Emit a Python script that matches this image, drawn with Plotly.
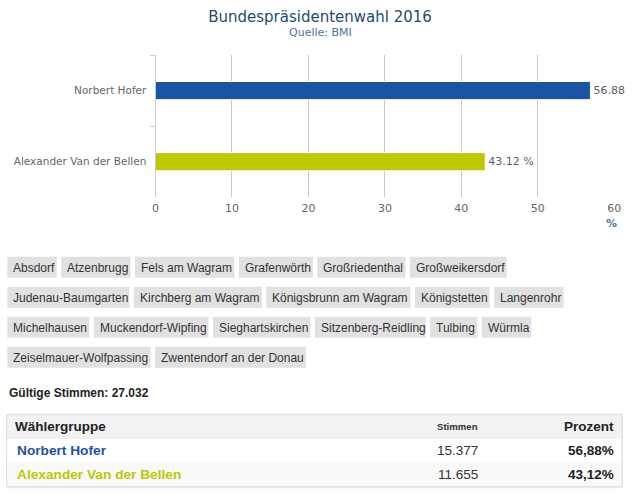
import plotly.graph_objects as go

W, H = 640, 501

# --- data ---
candidates = ["Norbert Hofer", "Alexander Van der Bellen"]
percent = [56.88, 43.12]
label_suffix = ["", " %"]
votes = [15377, 11655]
bar_colors = ["#1a54a4", "#bec800"]
name_colors = ["#1f4fa6", "#bcc800"]

tag_rows = [
    ["Absdorf", "Atzenbrugg", "Fels am Wagram", "Grafenwörth", "Großriedenthal", "Großweikersdorf"],
    ["Judenau-Baumgarten", "Kirchberg am Wagram", "Königsbrunn am Wagram", "Königstetten", "Langenrohr"],
    ["Michelhausen", "Muckendorf-Wipfing", "Sieghartskirchen", "Sitzenberg-Reidling", "Tulbing", "Würmla"],
    ["Zeiselmauer-Wolfpassing", "Zwentendorf an der Donau"],
]

# Arial / Liberation Sans advance widths (1/1000 em) to size the tag boxes
ARIAL = {
    " ": 278, "-": 333, "a": 556, "b": 556, "c": 500, "d": 556, "e": 556, "f": 278, "g": 556,
    "h": 556, "i": 222, "j": 222, "k": 500, "l": 222, "m": 833, "n": 556, "o": 556, "p": 556,
    "q": 556, "r": 333, "s": 500, "t": 278, "u": 556, "v": 500, "w": 722, "x": 500, "y": 500,
    "z": 500, "ß": 611, "ä": 556, "ö": 556, "ü": 556, "A": 667, "D": 722, "F": 611, "G": 778,
    "J": 500, "K": 667, "L": 556, "M": 833, "S": 667, "T": 611, "W": 944, "Z": 611,
}


def text_w(s, size):
    return sum(ARIAL.get(c, 556) for c in s) * size / 1000


def px(x):
    return x / W


def py(y):
    return 1 - y / H


def de_num(n):
    return f"{n:,}".replace(",", ".")


fig = go.Figure(go.Bar(
    x=percent,
    y=candidates,
    orientation="h",
    marker=dict(color=bar_colors, line=dict(color="white", width=1)),
    text=[f"{p:.2f}{s}" for p, s in zip(percent, label_suffix)],
    textposition="outside",
    textfont=dict(family="DejaVu Sans", size=11, color="#606060"),
    constraintext="none",
    cliponaxis=False,
    hoverinfo="skip",
))

fig.update_layout(
    width=W, height=H,
    margin=dict(l=0, r=0, t=0, b=0, autoexpand=False),
    paper_bgcolor="white", plot_bgcolor="white",
    showlegend=False,
    bargap=0.745,
    font=dict(family="DejaVu Sans", color="#666666"),
    title=dict(
        text="Bundespräsidentenwahl 2016",
        x=0.5, xanchor="center", y=py(17), yanchor="middle",
        xref="paper", yref="paper", automargin=False,
        font=dict(family="DejaVu Sans", size=15, color="#274b6d"),
    ),
    xaxis=dict(
        domain=[px(155.5), px(614.3)],
        range=[0, 60], dtick=10,
        showgrid=True, gridcolor="#c8c8c8", gridwidth=1,
        zeroline=False, showline=False,
        tickfont=dict(size=11, color="#666666"),
        ticklabelstandoff=3,
        automargin=False,
        anchor="y",
    ),
    yaxis=dict(
        domain=[py(197.3), py(55)],
        autorange="reversed",
        showline=True, linecolor="#c0d0e0", linewidth=1,
        ticks="outside", tickson="boundaries", ticklen=5, tickcolor="#c0d0e0",
        tickfont=dict(size=10.5, color="#666666"),
        ticklabelstandoff=6,
        showgrid=False, automargin=False,
    ),
)

shapes = []
annotations = [
    dict(text="Quelle: BMI", x=0.5, y=py(33), xanchor="center", yanchor="middle",
         font=dict(family="DejaVu Sans", size=11, color="#4d759e")),
    dict(text="<b>%</b>", x=px(611), y=py(223), xanchor="center", yanchor="middle",
         font=dict(family="DejaVu Sans", size=11, color="#4d759e")),
]

# --- municipality tags ---
tag_size = 12
for r, row in enumerate(tag_rows):
    top = 256.7 + 30 * r
    x = 7.3
    for name in row:
        w = text_w(name, tag_size) + 8
        shapes.append(dict(type="rect", xref="paper", yref="paper",
                           x0=px(x), x1=px(x + w), y0=py(top + 21), y1=py(top),
                           fillcolor="#e1e1e1", line=dict(width=0), layer="below"))
        annotations.append(dict(text=name, x=px(x + 4), y=py(top + 10.8),
                                xanchor="left", yanchor="middle",
                                font=dict(family="Liberation Sans", size=tag_size, color="#333333")))
        x += w + 4.5

# --- results table ---
annotations.append(dict(text=f"<b>Gültige Stimmen: {de_num(sum(votes))}</b>",
                        x=px(6.7), y=py(393.3), xanchor="left", yanchor="middle",
                        font=dict(family="Liberation Sans", size=12, color="#222222")))

t_left, t_right = 6.7, 622
row_edges = [414.3, 439, 462.7, 486.7]
row_fills = ["#f2f2f2", "#ffffff", "#f9f9f9"]
# faint shadow + border
shapes.append(dict(type="rect", xref="paper", yref="paper",
                   x0=px(t_left), x1=px(t_right + 1), y0=py(row_edges[-1] + 1.5), y1=py(row_edges[0]),
                   fillcolor="#ececec", line=dict(width=0), layer="below"))
for i, fill in enumerate(row_fills):
    shapes.append(dict(type="rect", xref="paper", yref="paper",
                       x0=px(t_left), x1=px(t_right), y0=py(row_edges[i + 1]), y1=py(row_edges[i]),
                       fillcolor=fill, line=dict(width=0), layer="below"))
shapes.append(dict(type="rect", xref="paper", yref="paper",
                   x0=px(t_left), x1=px(t_right), y0=py(row_edges[-1]), y1=py(row_edges[0]),
                   line=dict(color="#dddddd", width=1)))

head_y = (row_edges[0] + row_edges[1]) / 2
annotations += [
    dict(text="<b>Wählergruppe</b>", x=px(13.3), y=py(head_y), xanchor="left", yanchor="middle",
         font=dict(family="Liberation Sans", size=13.5, color="#222222")),
    dict(text="<b>Stimmen</b>", x=px(480), y=py(head_y), xanchor="right", yanchor="middle",
         font=dict(family="Liberation Sans", size=9.6, color="#333333")),
    dict(text="<b>Prozent</b>", x=px(616), y=py(head_y), xanchor="right", yanchor="middle",
         font=dict(family="Liberation Sans", size=13.5, color="#222222")),
]
for i, (name, v, p) in enumerate(zip(candidates, votes, percent)):
    cy = (row_edges[i + 1] + row_edges[i + 2]) / 2
    annotations += [
        dict(text=f"<b>{name}</b>", x=px(15), y=py(cy), xanchor="left", yanchor="middle",
             font=dict(family="Liberation Sans", size=13.7, color=name_colors[i])),
        dict(text=de_num(v), x=px(480), y=py(cy), xanchor="right", yanchor="middle",
             font=dict(family="Liberation Sans", size=13.5, color="#333333")),
        dict(text=f"<b>{p:.2f}%</b>".replace(".", ","), x=px(616), y=py(cy), xanchor="right",
             yanchor="middle", font=dict(family="Liberation Sans", size=13.5, color="#222222")),
    ]

for a in annotations:
    a.update(xref="paper", yref="paper", showarrow=False)

fig.update_layout(shapes=shapes, annotations=annotations)
# the page's default body margin would shift the figure by 8px
fig.write_html("out.html", config={"displayModeBar": False},
               post_script="document.body.style.margin='0';")
